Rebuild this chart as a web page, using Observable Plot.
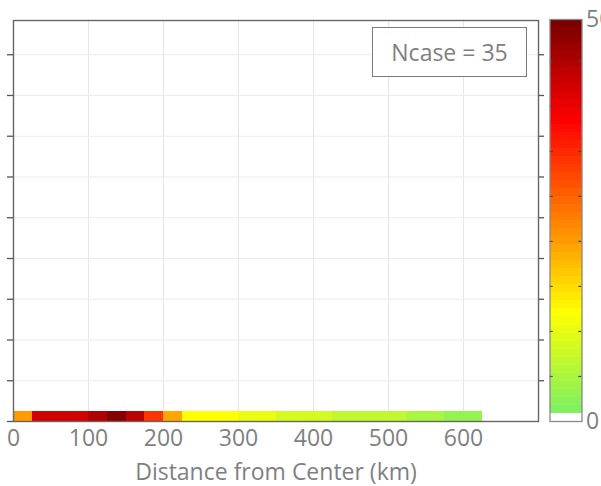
<!DOCTYPE html>
<html>
<head>
<meta charset="utf-8">
<script src="https://cdn.jsdelivr.net/npm/d3@7"></script>
<script src="https://cdn.jsdelivr.net/npm/@observablehq/plot@0.6"></script>
<style>
  html, body { margin: 0; padding: 0; background: #fff; }
  #wrap { position: relative; width: 601px; height: 486px; overflow: hidden; font-family: "Open Sans", sans-serif; }
  #wrap svg { position: absolute; top: 0; }
  #ncase { position: absolute; left: 372px; top: 27px; width: 153px; height: 48px;
           border: 1.5px solid #7a7a7a; background: #fff; color: #7f7f7f;
           font-size: 23px; line-height: 48px; text-align: center; }
</style>
</head>
<body>
<div id="wrap"></div>
<script>
// ---- data ----
const binStart = [0, 25, 50, 75, 100, 125, 150, 175, 200, 225, 250, 275, 300, 325, 350, 375, 400, 425, 450, 475, 500, 525, 550, 575, 600];
const binValue = [22, 41, 41, 41, 44, 48, 43, 32, 21, 13, 13, 13, 11, 11, 9, 9, 9, 7, 7, 7, 7, 5, 5, 3, 3];
const binWidth = 25;
const rowBin = [0, 25];
const xTicks = [0, 100, 200, 300, 400, 500, 600];
const yTicks = [0, 100, 200, 300, 400, 500, 600, 700, 800, 900];
const colorStops = [0, 1, 13, 23, 37, 50];
const colorRange = ["#ffffff", "#80f060", "#ffff00", "#ff9000", "#ff0000", "#700000"];
const colorbarTicks = [5.6, 11.2, 16.8, 22.4, 28, 33.6, 39.2, 44.8];
const colorbarLabels = [0, 50];
const xLabel = "Distance from Center (km)";
const ncaseText = "Ncase = 35";

const cells = binStart.map((s, i) => ({x1: s, x2: s + binWidth, y1: rowBin[0], y2: rowBin[1], v: binValue[i]}));
const colorOpts = {type: "linear", domain: colorStops, range: colorRange, interpolate: "rgb"};

const main = Plot.plot({
  width: 601, height: 486,
  marginLeft: 13, marginRight: 63, marginTop: 20, marginBottom: 65,
  style: {fontFamily: "Open Sans", fontSize: "23px", color: "#7f7f7f", background: "transparent"},
  x: {domain: [0, 700]},
  y: {domain: [0, 984]},
  color: colorOpts,
  marks: [
    Plot.gridX(xTicks.filter(d => d > 0), {stroke: "#e6e6e6", strokeOpacity: 1}),
    Plot.gridY(yTicks.filter(d => d > 0), {stroke: "#ececec", strokeOpacity: 1}),
    Plot.rect(cells, {x1: "x1", x2: "x2", y1: "y1", y2: "y2", fill: "v", shapeRendering: "crispEdges"}),
    Plot.frame({stroke: "#666", strokeWidth: 1.4}),
    Plot.axisY(yTicks, {anchor: "left", tickSize: 6, fill: "none", stroke: "#555", strokeWidth: 1.3, label: null}),
    Plot.axisY(yTicks.filter(d => d > 0), {anchor: "right", tickSize: 5, fill: "none", stroke: "#555", strokeWidth: 1.3, label: null}),
    Plot.axisX(xTicks, {anchor: "bottom", tickSize: 0, tickPadding: 8, fill: "#7f7f7f", fontSize: 23, label: null}),
    Plot.text([xLabel], {frameAnchor: "bottom", dy: 58, lineAnchor: "bottom", fill: "#7f7f7f", fontSize: 23})
  ]
});
main.style.left = "0px";

const levels = d3.range(0, 50);
const cbar = Plot.plot({
  width: 61, height: 486,
  marginLeft: 9.5, marginRight: 19.5, marginTop: 19, marginBottom: 65,
  style: {fontFamily: "Open Sans", fontSize: "23px", color: "#7f7f7f", background: "transparent", overflow: "visible"},
  x: {domain: [0, 1], axis: null},
  y: {domain: [0, 50], axis: null},
  color: colorOpts,
  marks: [
    Plot.rect(levels, {x1: 0, x2: 1, y1: d => d, y2: d => d + 1, fill: d => d, shapeRendering: "crispEdges"}),
    Plot.ruleY(colorbarTicks, {x1: 0, x2: 0.1, stroke: "#444", strokeWidth: 1.2}),
    Plot.ruleY(colorbarTicks, {x1: 0.9, x2: 1, stroke: "#444", strokeWidth: 1.2}),
    Plot.frame({stroke: "#888", strokeWidth: 1.3}),
    Plot.text(colorbarLabels, {x: 1, y: d => d, text: d => String(d), dx: 4, textAnchor: "start", lineAnchor: "middle", fill: "#7f7f7f", fontSize: 23})
  ]
});
cbar.style.left = "540px";

const wrap = document.getElementById("wrap");
wrap.appendChild(main);
wrap.appendChild(cbar);
const box = document.createElement("div");
box.id = "ncase";
box.textContent = ncaseText;
wrap.appendChild(box);
</script>
</body>
</html>
